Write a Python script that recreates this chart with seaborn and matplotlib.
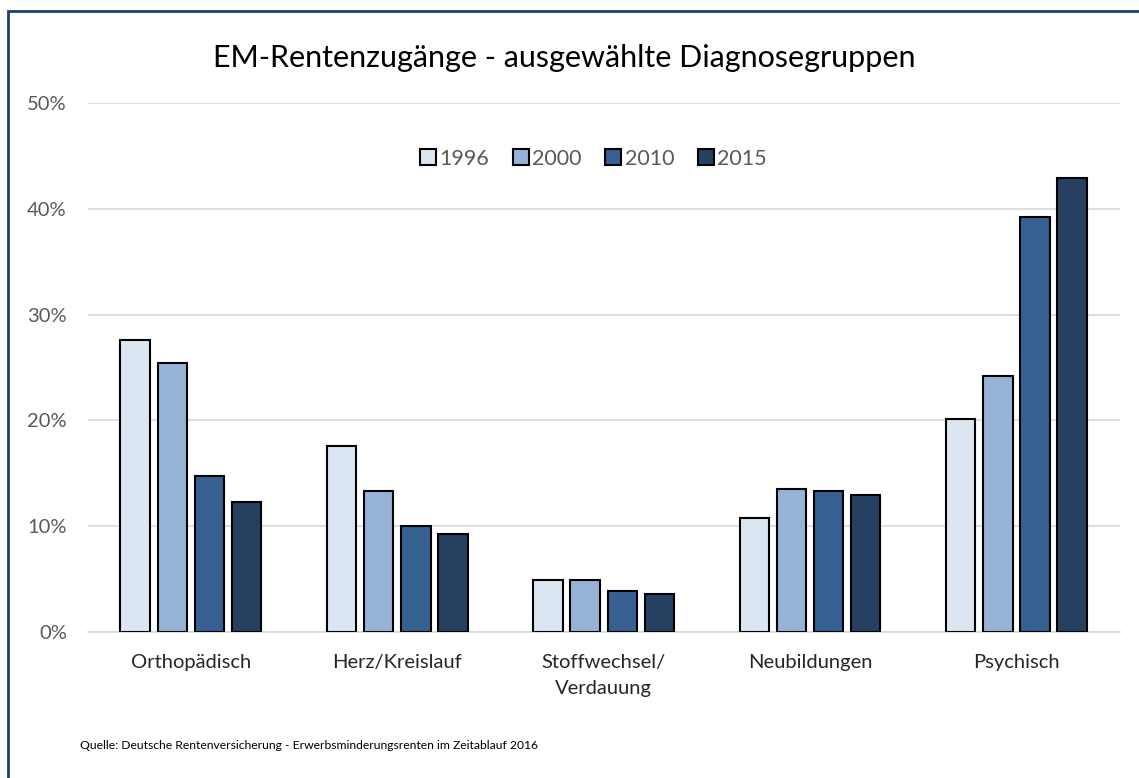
import matplotlib
import seaborn as sns
import pandas as pd
import matplotlib.pyplot as plt
from matplotlib.patches import Rectangle
from matplotlib.ticker import PercentFormatter

categories = ['Orthopädisch', 'Herz/Kreislauf', 'Stoffwechsel/\nVerdauung', 'Neubildungen', 'Psychisch']
years = ['1996', '2000', '2010', '2015']
values_1996 = [27.6, 17.6, 4.9, 10.8, 20.1]
values_2000 = [25.4, 13.3, 4.9, 13.5, 24.2]
values_2010 = [14.7, 10.0, 3.9, 13.3, 39.2]
values_2015 = [12.3, 9.3, 3.6, 12.9, 42.9]
colors = ['#DCE6F2', '#95B3D7', '#366092', '#254061']

rows = []
for year, vals in zip(years, [values_1996, values_2000, values_2010, values_2015]):
    for cat, v in zip(categories, vals):
        rows.append({'Gruppe': cat, 'Jahr': year, 'Anteil': v / 100})
df = pd.DataFrame(rows)

sns.set_style('white')
plt.rcParams['font.family'] = ['Lato', 'DejaVu Sans']

fig = plt.figure(figsize=(11.39, 7.78), dpi=100)
ax = fig.add_axes([0.077, 0.1877, 0.906, 0.68])

sns.barplot(data=df, x='Gruppe', y='Anteil', hue='Jahr', palette=colors,
            saturation=1, width=0.72, gap=0.21, edgecolor='black', linewidth=1.5,
            ax=ax, zorder=3)

ax.set_ylim(0, 0.5)
ax.set_yticks([0, 0.1, 0.2, 0.3, 0.4, 0.5])
ax.yaxis.set_major_formatter(PercentFormatter(1.0, decimals=0))
ax.grid(axis='y', color='#D9D9D9', linewidth=1.2, zorder=0)
for s in ['top', 'right', 'left']:
    ax.spines[s].set_visible(False)
ax.spines['bottom'].set_color('#D9D9D9')
ax.spines['bottom'].set_linewidth(1.2)
ax.tick_params(axis='y', labelsize=14.5, labelcolor='#595959', length=0, pad=15)
ax.tick_params(axis='x', labelsize=14.5, labelcolor='#262626', length=0, pad=16)
for lbl in ax.get_xticklabels():
    lbl.set_linespacing(1.6)
    lbl.set_verticalalignment('top')
ax.set_xlabel('')
ax.set_ylabel('')

leg = ax.legend(loc='upper center', bbox_to_anchor=(0.49, 0.95), ncol=4, frameon=False,
                fontsize=15.5, handlelength=0.75, handleheight=0.75, handletextpad=0.15,
                columnspacing=1.1)
for t in leg.get_texts():
    t.set_color('#595959')

fig.text(0.495, 0.926, 'EM-Rentenzugänge - ausgewählte Diagnosegruppen', ha='center', va='center',
         fontsize=22, color='#000000')
fig.text(0.07, 0.042, 'Quelle: Deutsche Rentenversicherung - Erwerbsminderungsrenten im Zeitablauf 2016',
         ha='left', va='center', fontsize=8.7, color='#000000')

fig.patches.append(Rectangle((8 / 1139, -0.5), 2.0, 1.5 - 11 / 778,
                             transform=fig.transFigure, fill=False,
                             edgecolor='#1F3F73', linewidth=2, figure=fig))

plt.savefig('out.png', dpi=100)
